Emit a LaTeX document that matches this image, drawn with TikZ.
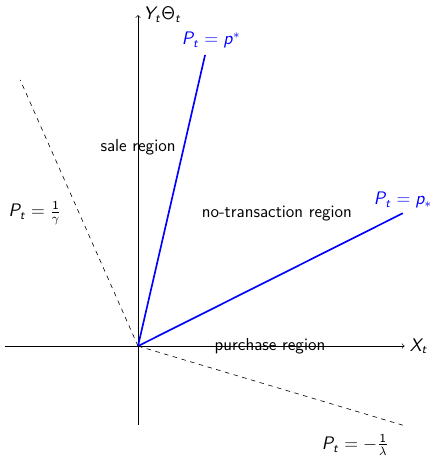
\documentclass[tikz,border=0pt]{standalone}
\usepackage{amsmath,amssymb}
\usepackage{tikz}
\usetikzlibrary{positioning}
\renewcommand{\familydefault}{\sfdefault}
% sans serif math letters, as in slides
\DeclareSymbolFont{operators}{OT1}{cmss}{m}{n}
\DeclareSymbolFont{sfitletters}{OT1}{cmss}{m}{sl}
\DeclareMathSymbol{P}{\mathalpha}{sfitletters}{`P}
\DeclareMathSymbol{X}{\mathalpha}{sfitletters}{`X}
\DeclareMathSymbol{Y}{\mathalpha}{sfitletters}{`Y}
\DeclareMathSymbol{p}{\mathalpha}{sfitletters}{`p}
\DeclareMathSymbol{t}{\mathalpha}{sfitletters}{`t}

\begin{document}
\begin{tikzpicture}[font=\fontsize{11.5pt}{14pt}\selectfont\sffamily, >=to]
\tikzset{axis/.style={->,black}, bound/.style={line width=1.1pt,blue}, cost/.style={dashed,black}, lbl/.style={inner sep=2pt}}
\useasboundingbox (-3.21,-2.58) rectangle (6.81,8.05);
% axes
\coordinate (O) at (0,0);
\coordinate (xl) at (-3.1,0); \coordinate (xr) at (6.2,0);
\coordinate (yb) at (0,-1.84); \coordinate (yt) at (0,7.7);
\draw[axis] (xl)--(xr); \draw[axis] (yb)--(yt);
\node[right=0pt of xr] (xlab) {$X_t$};
\node[right=0pt of yt] (ylab) {$Y_t\Theta_t$};
% boundaries
\coordinate (up) at (1.56,6.77); \coordinate (lo) at (6.16,3.09);
\draw[bound] (O)--(up); \draw[bound] (O)--(lo);
\node[blue, above=1pt of up, xshift=4pt] (uplab) {$P_t = p^*$};
\node[blue, above=0pt of lo] (lolab) {$P_t = p_*$};
\coordinate (ga) at (-2.74,6.19); \coordinate (la) at (6.16,-1.84);
\draw[cost] (O)--(ga); \draw[cost] (O)--(la);
\node (galab) at (-2.4,3.09) {$P_t = \frac{1}{\gamma}$};
\node (lalab) at (5.05,-2.3) {$P_t = -\frac{1}{\lambda}$};
% regions
\node[lbl] (sale) at (0,4.63) {sale region};
\node[lbl] (notr) at (3.23,3.09) {no-transaction region};
\node[lbl] (purch) at (3.07,0) {purchase region};
\end{tikzpicture}
\end{document}
